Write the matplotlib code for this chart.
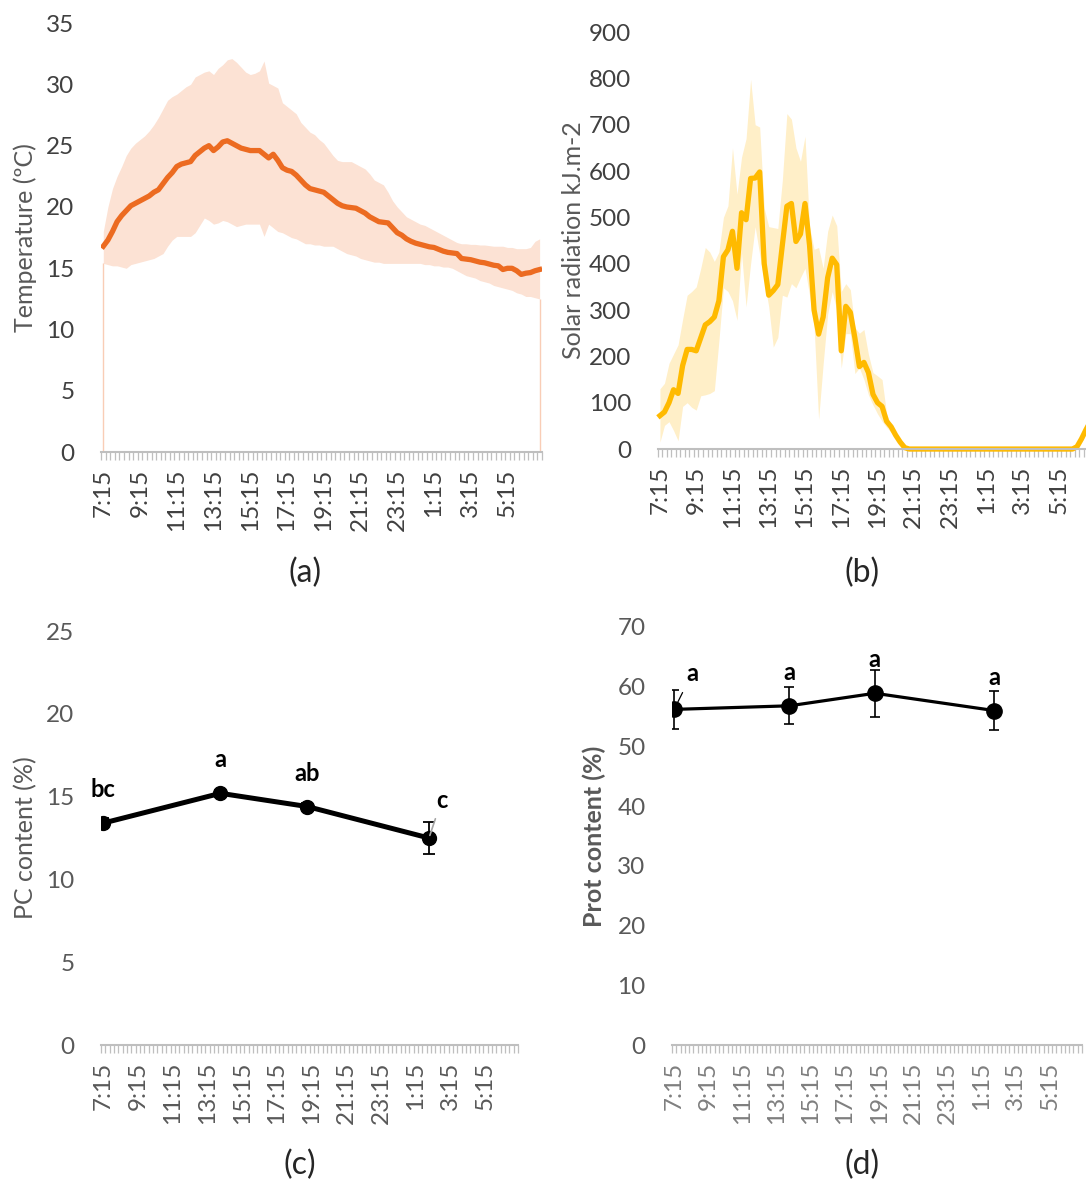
import numpy as np
import matplotlib
matplotlib.use("Agg")
import matplotlib.pyplot as plt

plt.rcParams["font.family"] = ["Lato", "DejaVu Sans"]

# x axis: 96 quarter-hour slots, 7:15 -> 7:00 next day
n_slots = 96
times = [f"{((7 * 60 + 15 + 15 * i) // 60) % 24}:{(15 + 15 * i) % 60:02d}" for i in range(n_slots)]
label_every = 8

# (a) air temperature, ºC
temp_mean = [
    16.8, 17.3, 18.0, 18.8, 19.3, 19.7, 20.1, 20.3, 20.5, 20.7, 20.9, 21.2,
    21.4, 21.9, 22.4, 22.8, 23.3, 23.5, 23.6, 23.7, 24.2, 24.5, 24.8, 25.0,
    24.6, 24.9, 25.3, 25.4, 25.2, 25.0, 24.8, 24.7, 24.6, 24.6, 24.6, 24.3,
    24.0, 24.3, 23.8, 23.2, 23.0, 22.9, 22.6, 22.2, 21.8, 21.5, 21.4, 21.3,
    21.2, 20.9, 20.6, 20.3, 20.1, 20.0, 19.95, 19.9, 19.7, 19.5, 19.2, 19.0,
    18.8, 18.75, 18.7, 18.3, 17.9, 17.7, 17.4, 17.2, 17.05, 16.95, 16.85, 16.75,
    16.7, 16.55, 16.4, 16.3, 16.25, 16.2, 15.8, 15.75, 15.7, 15.6, 15.5, 15.45,
    15.35, 15.25, 15.2, 14.9, 15.0, 15.0, 14.8, 14.5, 14.6, 14.65, 14.8, 14.9,
]
temp_max = [
    18.0, 20.0, 21.5, 22.5, 23.3, 24.2, 24.8, 25.2, 25.5, 25.8, 26.2, 26.7,
    27.3, 28.0, 28.7, 29.0, 29.2, 29.5, 29.8, 30.0, 30.6, 30.8, 31.0, 31.1,
    30.8, 31.3, 31.6, 32.0, 32.1, 31.8, 31.4, 31.0, 30.8, 30.9, 31.1, 31.9,
    30.1, 29.9, 29.7, 28.5, 28.2, 27.9, 27.6, 26.9, 26.5, 26.1, 25.9, 25.5,
    25.2, 24.7, 24.2, 23.8, 23.7, 23.7, 23.7, 23.5, 23.3, 23.1, 22.7, 22.2,
    22.0, 21.8, 21.2, 20.5, 20.0, 19.6, 19.2, 19.0, 18.8, 18.6, 18.5, 18.3,
    18.1, 17.9, 17.7, 17.5, 17.3, 17.1, 17.0, 17.0, 16.95, 16.95, 16.9, 16.9,
    16.85, 16.8, 16.8, 16.8, 16.7, 16.7, 16.6, 16.6, 16.6, 16.7, 17.2, 17.4,
]
temp_min = [
    15.4, 15.3, 15.2, 15.2, 15.1, 15.0, 15.3, 15.4, 15.5, 15.6, 15.7, 15.8,
    16.0, 16.2, 16.8, 17.3, 17.6, 17.6, 17.6, 17.6, 17.9, 18.5, 19.1, 18.9,
    18.6, 18.7, 18.9, 18.8, 18.6, 18.4, 18.5, 18.6, 18.6, 18.6, 18.6, 17.6,
    18.6, 18.3, 18.0, 17.9, 17.7, 17.5, 17.4, 17.2, 17.0, 17.0, 16.9, 16.9,
    16.8, 16.8, 16.8, 16.6, 16.4, 16.2, 16.1, 16.0, 15.8, 15.7, 15.6, 15.5,
    15.5, 15.4, 15.4, 15.4, 15.4, 15.4, 15.4, 15.4, 15.4, 15.4, 15.3, 15.3,
    15.2, 15.2, 15.1, 15.1, 15.0, 14.8, 14.6, 14.4, 14.3, 14.2, 14.0, 13.9,
    13.8, 13.6, 13.5, 13.4, 13.3, 13.2, 13.0, 12.9, 12.7, 12.7, 12.6, 12.5,
]

# (b) solar radiation, kJ.m-2
solar_mean = [
    72, 80, 100, 128, 120, 180, 215, 215, 212, 240, 268, 275,
    285, 320, 415, 430, 470, 390, 510, 495, 584, 585, 598, 400,
    332, 342, 355, 440, 524, 530, 448, 464, 530, 440, 300, 248,
    285, 370, 412, 398, 212, 308, 295, 240, 178, 187, 165, 118,
    100, 92, 60, 48, 30, 15, 3, 0, 0, 0, 0, 0,
    0, 0, 0, 0, 0, 0, 0, 0, 0, 0, 0, 0,
    0, 0, 0, 0, 0, 0, 0, 0, 0, 0, 0, 0,
    0, 0, 0, 0, 0, 0, 0, 0, 5, 22, 42, 60,
]
solar_max = [
    130, 142, 185, 205, 225, 280, 332, 340, 350, 390, 435, 425,
    405, 425, 500, 525, 650, 550, 630, 670, 798, 700, 695, 520,
    480, 478, 476, 580, 724, 712, 650, 621, 675, 480, 431, 435,
    390, 470, 505, 482, 340, 357, 344, 262, 250, 258, 204, 165,
    158, 150, 76, 51, 35, 22, 10, 0, 0, 0, 0, 0,
    0, 0, 0, 0, 0, 0, 0, 0, 0, 0, 0, 0,
    0, 0, 0, 0, 0, 0, 0, 0, 0, 0, 0, 0,
    0, 0, 0, 0, 0, 0, 0, 0, 8, 28, 52, 80,
]
solar_min = [
    15, 51, 59, 40, 18, 92, 100, 90, 84, 115, 117, 120,
    126, 233, 348, 340, 320, 278, 423, 307, 400, 480, 420, 365,
    307, 220, 241, 332, 328, 357, 348, 370, 390, 332, 266, 64,
    183, 291, 340, 300, 175, 249, 249, 163, 175, 150, 117, 95,
    76, 60, 47, 36, 26, 15, 6, 0, 0, 0, 0, 0,
    0, 0, 0, 0, 0, 0, 0, 0, 0, 0, 0, 0,
    0, 0, 0, 0, 0, 0, 0, 0, 0, 0, 0, 0,
    0, 0, 0, 0, 0, 0, 0, 0, 2, 15, 32, 45,
]

# (c), (d) sampling times
sample_times = ["7:15", "14:00", "19:00", "2:00"]
pc_mean = [13.4, 15.2, 14.4, 12.5]
pc_err = [0.3, 0.2, 0.2, 0.95]
pc_letters = ["bc", "a", "ab", "c"]
prot_mean = [56.2, 56.8, 58.9, 56.0]
prot_err = [3.2, 3.1, 3.9, 3.3]
prot_letters = ["a", "a", "a", "a"]

x = np.arange(n_slots)
sample_x = [times.index(t) for t in sample_times]

AXIS_GREY = "#BFBFBF"
TICK_FS = 17.5
LABEL_FS = 18
LETTER_FS = 17


def style_axes(ax, ymax, ystep, tick_color, xtick_color=None):
    ax.set_xlim(-0.5, n_slots - 0.5)
    ax.set_ylim(0, ymax)
    ax.set_yticks(np.arange(0, ymax + ystep / 2, ystep))
    for side in ("top", "right", "left"):
        ax.spines[side].set_visible(False)
    ax.spines["bottom"].set_color(AXIS_GREY)
    ax.spines["bottom"].set_linewidth(1.5)
    ax.set_xticks(x[::label_every])
    ax.set_xticklabels(times[::label_every], rotation=90)
    ax.set_xticks(np.arange(-0.5, n_slots, 1), minor=True)
    ax.tick_params(axis="x", which="major", length=0, pad=12, labelsize=TICK_FS,
                   labelcolor=xtick_color or tick_color)
    ax.tick_params(axis="x", which="minor", length=6, width=0.9, color=AXIS_GREY)
    ax.tick_params(axis="y", length=0, pad=19, labelsize=TICK_FS, labelcolor=tick_color)


fig = plt.figure(figsize=(10.86, 11.87), dpi=100)

# (a)
ax = fig.add_axes([0.093, 0.619, 0.406, 0.3616])
ax.fill_between(x, temp_min, temp_max, color="#FCE2D4", lw=0)
ax.vlines([x[0], x[-1]], 0, [temp_min[0], temp_min[-1]], color="#F9CDB6", lw=1)
ax.plot(x, temp_mean, color="#EC6B21", lw=3.8, solid_joinstyle="round")
style_axes(ax, 35, 5, "#404040")
ax.set_ylabel("Temperature (ºC)", fontsize=LABEL_FS, color="#595959")
ax.yaxis.set_label_coords(-0.145, 0.5)

# (b) - plot area runs a little past the right edge of the figure
ax = fig.add_axes([0.6056, 0.6217, 0.4007, 0.3513])
ax.fill_between(x, solar_min, solar_max, color="#FFEFC8", lw=0)
ax.plot(x, solar_mean, color="#FFBA00", lw=3.8, solid_joinstyle="round", clip_on=False)
style_axes(ax, 900, 100, "#404040")
ax.set_ylabel("Solar radiation kJ.m-2", fontsize=LABEL_FS, color="#595959")
ax.yaxis.set_label_coords(-0.167, 0.5)

# (c)
ax = fig.add_axes([0.093, 0.1196, 0.384, 0.3488])
ax.errorbar(sample_x, pc_mean, yerr=pc_err, color="black", lw=3.6, marker="o",
            ms=10, ecolor="black", elinewidth=1.3, capsize=4, capthick=1.3)
for xi, yi, lbl in zip(sample_x, pc_mean, pc_letters):
    if lbl == "c":
        ax.annotate(lbl, (xi, yi), xytext=(9, 27), textcoords="offset points",
                    ha="center", va="center", fontsize=LETTER_FS, fontweight="bold",
                    arrowprops=dict(arrowstyle="-", color="#A6A6A6", lw=1.2,
                                    shrinkA=3, shrinkB=2))
    else:
        ax.annotate(lbl, (xi, yi), xytext=(0, 24), textcoords="offset points",
                    ha="center", va="center", fontsize=LETTER_FS, fontweight="bold")
style_axes(ax, 25, 5, "#595959")
ax.set_ylabel("PC content (%)", fontsize=LABEL_FS, color="#595959")
ax.yaxis.set_label_coords(-0.153, 0.5)

# (d)
ax = fig.add_axes([0.6188, 0.1196, 0.3775, 0.3522])
ax.errorbar(sample_x, prot_mean, yerr=prot_err, color="black", lw=2.3, marker="o",
            ms=11, ecolor="black", elinewidth=1.2, capsize=3.5, capthick=1.2)
for k, (xi, yi, lbl) in enumerate(zip(sample_x, prot_mean, prot_letters)):
    if k == 0:
        ax.annotate(lbl, (xi, yi), xytext=(13, 26), textcoords="offset points",
                    ha="center", va="center", fontsize=LETTER_FS, fontweight="bold",
                    arrowprops=dict(arrowstyle="-", color="black", lw=0.9,
                                    shrinkA=4, shrinkB=4))
    else:
        ax.annotate(lbl, (xi, yi), xytext=(0, 24), textcoords="offset points",
                    ha="center", va="center", fontsize=LETTER_FS, fontweight="bold")
style_axes(ax, 70, 10, "#595959", xtick_color="#7F7F7F")
ax.set_ylabel("Prot content (%)", fontsize=LABEL_FS, color="#595959", fontweight="bold")
ax.yaxis.set_label_coords(-0.161, 0.5)

# panel letters
for px, py, tag in [(0.281, 0.517, "(a)"), (0.794, 0.517, "(b)"),
                    (0.276, 0.019, "(c)"), (0.794, 0.019, "(d)")]:
    fig.text(px, py, tag, ha="center", va="center", fontsize=23, color="#262626")

fig.savefig("out.png", dpi=100)
plt.close(fig)
